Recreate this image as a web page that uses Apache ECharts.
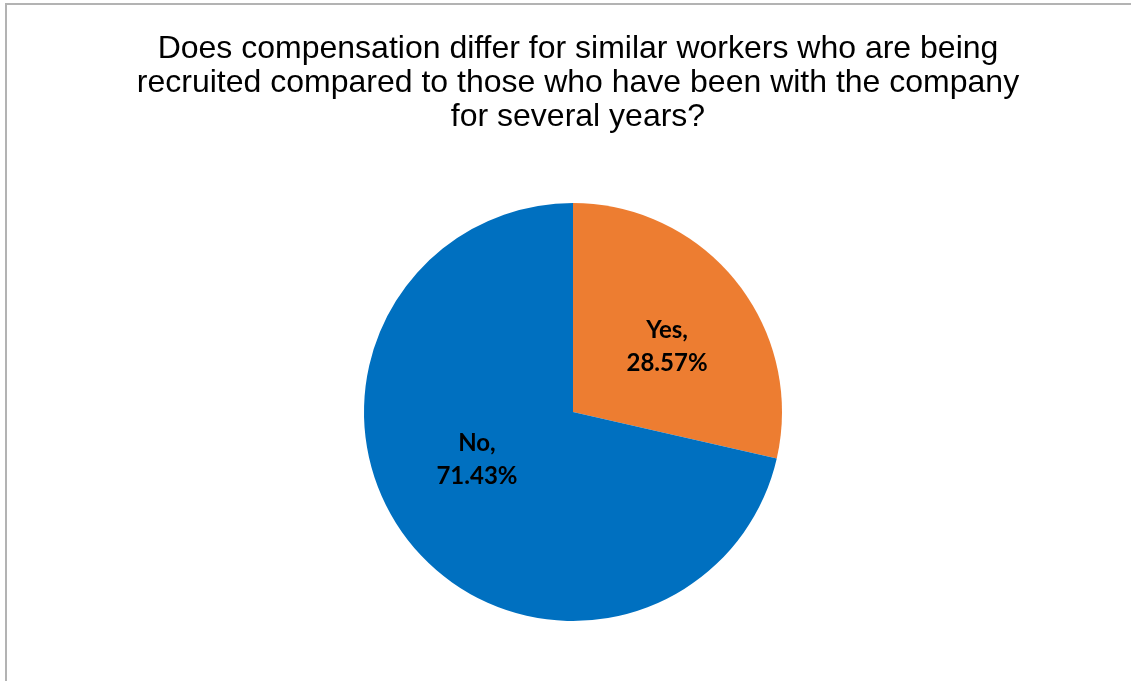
<!DOCTYPE html>
<html>
<head>
<meta charset="utf-8">
<script src="https://cdn.jsdelivr.net/npm/echarts@6/dist/echarts.min.js"></script>
<style>
  html, body { margin: 0; padding: 0; background: #fff; }
  #chart { width: 1131px; height: 681px; }
</style>
</head>
<body>
<div id="chart"></div>
<script>
// Survey answers and their shares (percent)
const categories = ['Yes', 'No'];
const shares = [28.57, 71.43];
const sliceColors = ['#ED7D31', '#0070C0'];
const titleLines = [
  'Does compensation differ for similar workers who are being',
  'recruited compared to those who have been with the company',
  'for several years?'
];

// Small nudges so the labels sit where the slices read best
const labelOffsets = { Yes: [10, 2], No: [-12, -19] };

const chart = echarts.init(document.getElementById('chart'));

chart.setOption({
  backgroundColor: '#ffffff',
  animation: false,
  graphic: [{
    type: 'rect',
    shape: { x: 6, y: 4, width: 1140, height: 700 },
    style: { fill: 'none', stroke: '#b3b3b3', lineWidth: 2 },
    silent: true
  }],
  title: {
    text: titleLines.join('\n'),
    left: 573,
    top: 27,
    textAlign: 'center',
    textStyle: {
      fontFamily: 'Liberation Sans, Arial, sans-serif',
      fontSize: 32,
      fontWeight: 'normal',
      color: '#000000',
      lineHeight: 34
    }
  },
  series: [{
    type: 'pie',
    center: [573, 412],
    radius: [0, 209],
    startAngle: 90,
    clockwise: true,
    avoidLabelOverlap: false,
    itemStyle: { borderWidth: 0 },
    label: {
      show: true,
      position: 'inside',
      fontFamily: 'Lato, "Open Sans", sans-serif',
      fontWeight: 'bold',
      fontSize: 24,
      lineHeight: 33,
      color: '#000000',
      formatter: p => p.name + ',\n' + p.value.toFixed(2) + '%'
    },
    labelLine: { show: false },
    data: categories.map((name, i) => ({
      name,
      value: shares[i],
      itemStyle: { color: sliceColors[i] },
      label: { offset: labelOffsets[name] }
    }))
  }]
});
</script>
</body>
</html>
